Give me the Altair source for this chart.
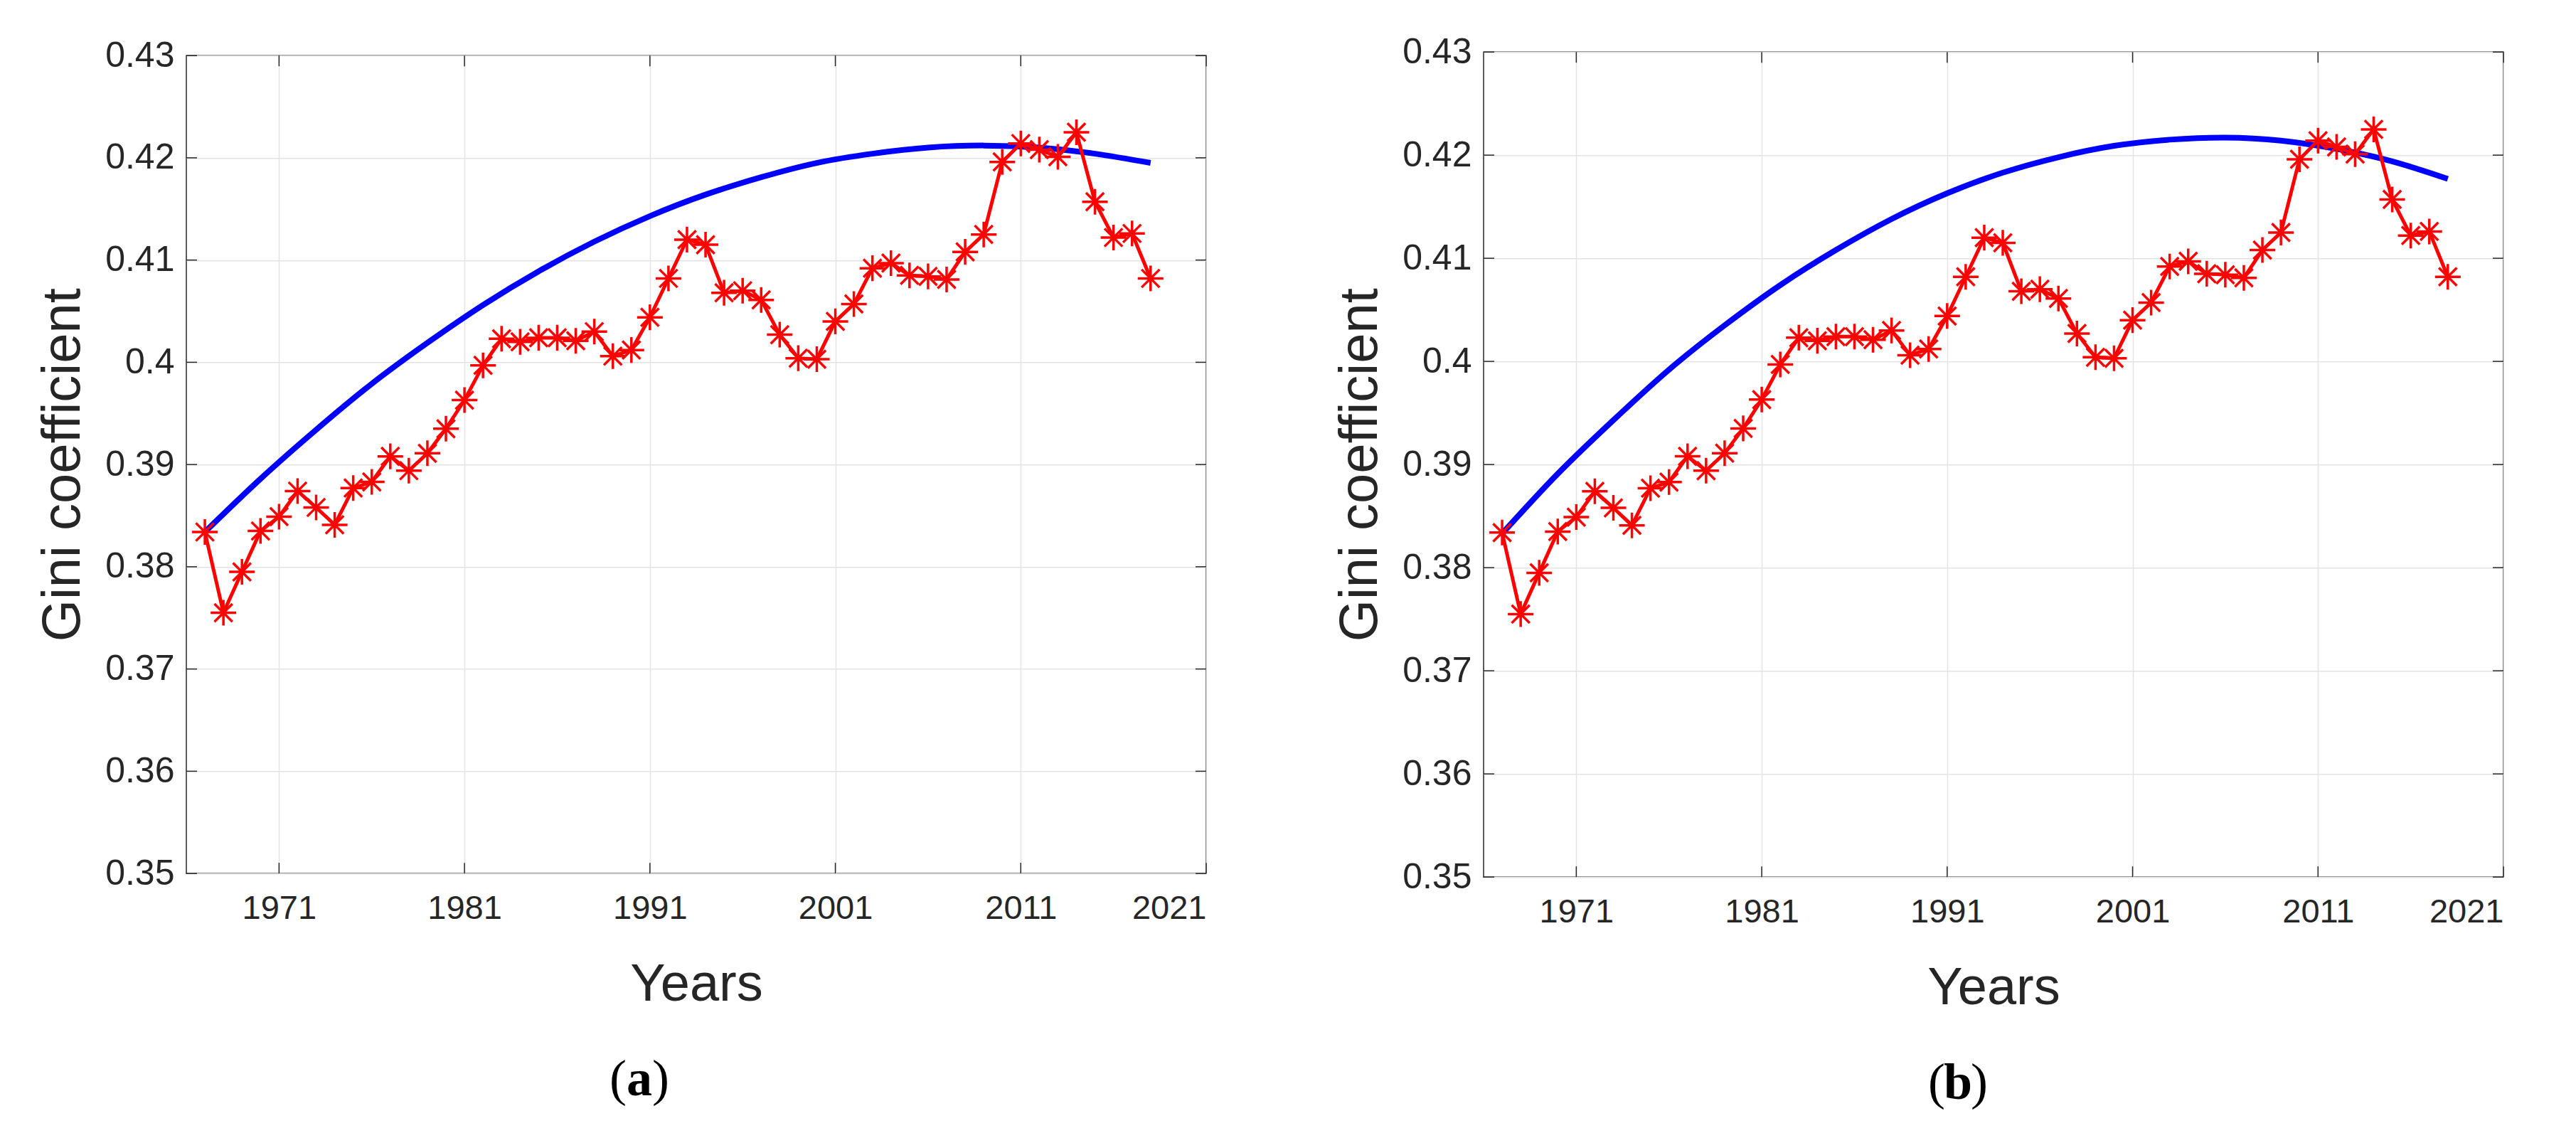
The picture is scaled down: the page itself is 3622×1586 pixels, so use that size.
import altair as alt
import pandas as pd

# Observed Gini coefficient, 1967-2018
years = list(range(1967, 2019))
gini = [
    0.3834, 0.3755, 0.3795, 0.3835, 0.3849, 0.3874, 0.3858, 0.3841, 0.3877, 0.3883,
    0.3908, 0.3894, 0.3911, 0.3935, 0.3963, 0.3997, 0.4023, 0.4020, 0.4024, 0.4024,
    0.4021, 0.4030, 0.4006, 0.4012, 0.4044, 0.4082, 0.4120, 0.4115, 0.4068, 0.4070,
    0.4061, 0.4027, 0.4004, 0.4003, 0.4040, 0.4057, 0.4092, 0.4097, 0.4085, 0.4084,
    0.4081, 0.4108, 0.4125, 0.4196, 0.4214, 0.4208, 0.4201, 0.4225, 0.4157, 0.4122,
    0.4126, 0.4082,
]

# Fitted trend curves for the two models
fit_years = [1967, 1970, 1973, 1976, 1979, 1982, 1985, 1988, 1991, 1994,
             1997, 2000, 2003, 2006, 2009, 2012, 2015, 2018]
fit_a = [0.3834, 0.3886, 0.3934, 0.3979, 0.4019, 0.4056, 0.4089, 0.4118, 0.4143,
         0.4164, 0.4181, 0.4195, 0.4204, 0.4210, 0.4212, 0.4210, 0.4204, 0.4195]
fit_b = [0.3833, 0.3891, 0.3943, 0.3992, 0.4035, 0.4074, 0.4108, 0.4138, 0.4163,
         0.4183, 0.4198, 0.4209, 0.4215, 0.4217, 0.4214, 0.4206, 0.4194, 0.4177]

y_ticks = [0.35, 0.36, 0.37, 0.38, 0.39, 0.40, 0.41, 0.42, 0.43]
x_ticks = [1971, 1981, 1991, 2001, 2011, 2021]

W = 1434
INK = "#262626"
TICK = 15
STAR = "M-1,0L1,0M0,-1L0,1M-0.7,-0.7L0.7,0.7M-0.7,0.7L0.7,-0.7"


def panel(fit_vals, tag, h, cx):
    obs = pd.DataFrame({"year": years, "gini": gini})
    fit = pd.DataFrame({"year": fit_years, "gini": fit_vals})
    yt = pd.DataFrame({"gini": y_ticks})
    xt = pd.DataFrame({"year": x_ticks})

    xs = alt.Scale(domain=[1966, 2021], nice=False, zero=False)
    ys = alt.Scale(domain=[0.35, 0.43], nice=False, zero=False)
    x_enc = alt.X(
        "year:Q", scale=xs,
        axis=alt.Axis(values=x_ticks, format="d", title="Years",
                      labelFontSize=47, labelPadding=26, titleFontSize=74,
                      titlePadding=48),
    )
    y_enc = alt.Y(
        "gini:Q", scale=ys,
        axis=alt.Axis(values=y_ticks, format=".2~f", title="Gini coefficient",
                      labelFontSize=50, labelPadding=17, titleFontSize=76,
                      titlePadding=20),
    )

    trend = alt.Chart(fit).mark_line(
        color="#0000ff", strokeWidth=8, interpolate="natural"
    ).encode(x=x_enc, y=y_enc)
    line = alt.Chart(obs).mark_line(color="#ff0000", strokeWidth=5).encode(
        x="year:Q", y="gini:Q")
    stars = alt.Chart(obs).mark_point(
        shape=STAR, size=1300, filled=False, color="#ff0000",
        strokeWidth=3.5, opacity=1,
    ).encode(x="year:Q", y="gini:Q")

    # inward ticks on all four sides of the box
    tick_style = dict(color=INK, strokeWidth=1.5)
    left_t = alt.Chart(yt).mark_rule(**tick_style).encode(
        y="gini:Q", x=alt.value(0), x2=alt.value(TICK))
    right_t = alt.Chart(yt).mark_rule(**tick_style).encode(
        y="gini:Q", x=alt.value(W - TICK), x2=alt.value(W))
    bottom_t = alt.Chart(xt).mark_rule(**tick_style).encode(
        x="year:Q", y=alt.value(h - TICK), y2=alt.value(h))
    top_t = alt.Chart(xt).mark_rule(**tick_style).encode(
        x="year:Q", y=alt.value(0), y2=alt.value(TICK))

    # sub-figure caption "(a)" / "(b)" with a bold letter
    cy = h + 312
    cap = pd.DataFrame({"t": [tag]})
    cap_font = dict(font="Liberation Serif", fontSize=72, color="black",
                    baseline="alphabetic")
    p_open = alt.Chart(cap).mark_text(text="(", align="right", **cap_font).encode(
        x=alt.value(cx - 18), y=alt.value(cy))
    letter = alt.Chart(cap).mark_text(align="center", fontWeight="bold", **cap_font).encode(
        text="t:N", x=alt.value(cx), y=alt.value(cy))
    p_close = alt.Chart(cap).mark_text(text=")", align="left", **cap_font).encode(
        x=alt.value(cx + 18), y=alt.value(cy))

    return alt.layer(
        trend, line, stars, left_t, right_t, bottom_t, top_t,
        p_open, letter, p_close,
    ).properties(width=W, height=h)


chart = alt.hconcat(
    panel(fit_a, "a", 1150, 637),
    panel(fit_b, "b", 1160, 667),
    spacing=175,
    center=True,
).properties(
    padding={"left": 49, "top": 47, "right": 0, "bottom": 0},
    background="white",
).configure_view(
    stroke=INK, strokeWidth=1.5,
).configure_axis(
    grid=True, gridColor="#e3e3e3", gridWidth=1.5,
    domain=False, ticks=False,
    labelFont="Liberation Sans", titleFont="Liberation Sans",
    labelColor=INK, titleColor=INK, titleFontWeight="normal",
)

chart.save("out.html", embed_options={"renderer": "svg", "actions": False})
